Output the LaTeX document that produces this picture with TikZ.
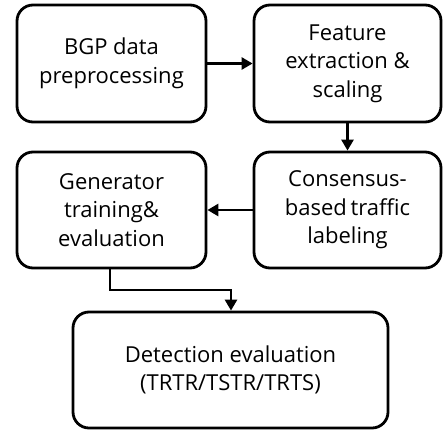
\documentclass[tikz,border=0pt]{standalone}
\usepackage{fontspec}
\setmainfont{Open Sans}
\usetikzlibrary{arrows.meta}
\begin{document}
\begin{tikzpicture}[x=1pt,y=-1pt,
  box/.style={draw,line width=2.8pt,rounded corners=16pt,align=center,inner sep=0pt,font=\fontsize{22}{28.5}\selectfont},
  conn/.style={line width=2.6pt,-{Triangle[length=11pt,width=12pt]}}]
\useasboundingbox (0,0) rectangle (443,433);
\node[box,minimum width=189pt,minimum height=117pt] (bgp) at (111.5,63.5) {BGP data\\preprocessing};
\node[box,minimum width=187pt,minimum height=117pt] (feat) at (347.5,63.5) {Feature\\extraction \&\\scaling};
\node[box,minimum width=189pt,minimum height=116pt] (gen) at (111.5,210) {Generator\\training\&\\evaluation};
\node[box,minimum width=187pt,minimum height=116pt] (cons) at (347.5,210) {Consensus-\\based\,traffic\\labeling};
\node[box,minimum width=315pt,minimum height=116pt] (det) at (230.5,370) {Detection evaluation\\(TRTR/TSTR/TRTS)};
\draw[conn] (bgp.east) -- (feat.west);
\draw[conn] (feat.south) -- (cons.north);
\draw[conn] (cons.west) -- (gen.west -| gen.east);
\coordinate (c1) at (110,290);
\coordinate (c2) at (231,290);
\draw[conn] (gen.south -| c1) -- (c1) -- (c2) -- (det.north -| c2);
\end{tikzpicture}
\end{document}
